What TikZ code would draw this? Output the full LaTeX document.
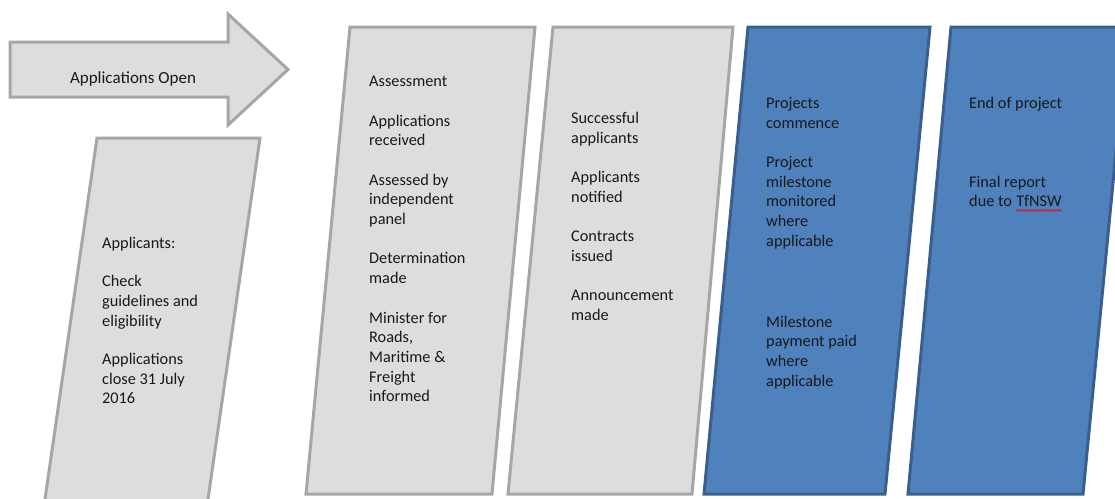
\documentclass[tikz,border=0pt]{standalone}
\usepackage{fontspec}
\setmainfont{Carlito}
\usepackage{xcolor}
\usepackage{tikz}
\usetikzlibrary{positioning, decorations.pathmorphing}
\definecolor{greyfill}{HTML}{DDDDDD}
\definecolor{greyline}{HTML}{A6A6A6}
\definecolor{bluefill}{HTML}{4F81BD}
\definecolor{blueline}{HTML}{3A5F8C}
\newcommand\redwave[1]{\tikz[baseline=(w.base)]{%
  \node[inner sep=0pt] (w) {#1};
  \draw[red, line width=0.7pt, decorate,
    decoration={snake, segment length=3pt, amplitude=0.8pt}]
    ([yshift=-3.5pt]w.base west) -- ([yshift=-3.5pt]w.base east);}}
\tikzset{
  greycol/.style={
    draw=greyline, fill=greyfill, line width=3pt, line join=miter
  },
  bluecol/.style={
    draw=blueline, fill=bluefill, line width=3pt, line join=miter
  },
  coltxt/.style={
    anchor=north west, inner sep=0pt, align=left,
    text=black!90, font=\fontsize{16.3}{19.7}\selectfont
  },
  arrtxt/.style={
    inner sep=0pt, text=black!90, font=\fontsize{17}{20}\selectfont
  }
}

\begin{document}
\begin{tikzpicture}[x=1pt, y=-1pt]

\useasboundingbox (0,0) rectangle (1115,498);
\clip (0,0) rectangle (1115,498);

% Open arrow
\draw[greycol] (10,42) -- (228,42) -- (228,14) -- (288,69.5) -- (228,125)
  -- (228,97) -- (10,97) -- cycle;
\node[arrtxt] (open) at (133,79) {Applications Open};

% Slanted columns
\draw[greycol] (97,138) -- (260,138) -- (205,520) -- (42,520) -- cycle;
\draw[greycol] (350,27) -- (535,27) -- (492,494) -- (306,494) -- cycle;
\draw[greycol] (553,27) -- (733,27) -- (692,494) -- (508,494) -- cycle;
\draw[bluecol] (748,27) -- (930,27) -- (885,494) -- (704,494) -- cycle;
\draw[bluecol] (951,27) -- (1128,27) -- (1083,494) -- (908,494) -- cycle;

% Column texts
\node[coltxt] (appl) at (102,237) {Applicants:\\[18.5pt]
  Check\\guidelines and\\eligibility\\[18.5pt]
  Applications\\close 31 July\\2016};
\node[coltxt] (asmt) at (369,76) {Assessment\\[19.7pt]
  Applications\\received\\[19.7pt]
  Assessed by\\independent\\panel\\[19.7pt]
  Determination\\made\\[19.7pt]
  Minister for\\Roads,\\Maritime \&\\Freight\\informed};
\node[coltxt] (succ) at (571,112) {Successful\\applicants\\[19.7pt]
  Applicants\\notified\\[19.7pt]
  Contracts\\issued\\[19.7pt]
  Announcement\\made};
\node[coltxt] (proj) at (766,97) {Projects\\commence\\[19.7pt]
  Project\\milestone\\monitored\\where\\applicable\\[61pt]
  Milestone\\payment paid\\where\\applicable};
\node[coltxt] (endp) at (969,97) {End of project\\[59pt]
  Final report\\due to \redwave{TfNSW}};

\end{tikzpicture}
\end{document}
